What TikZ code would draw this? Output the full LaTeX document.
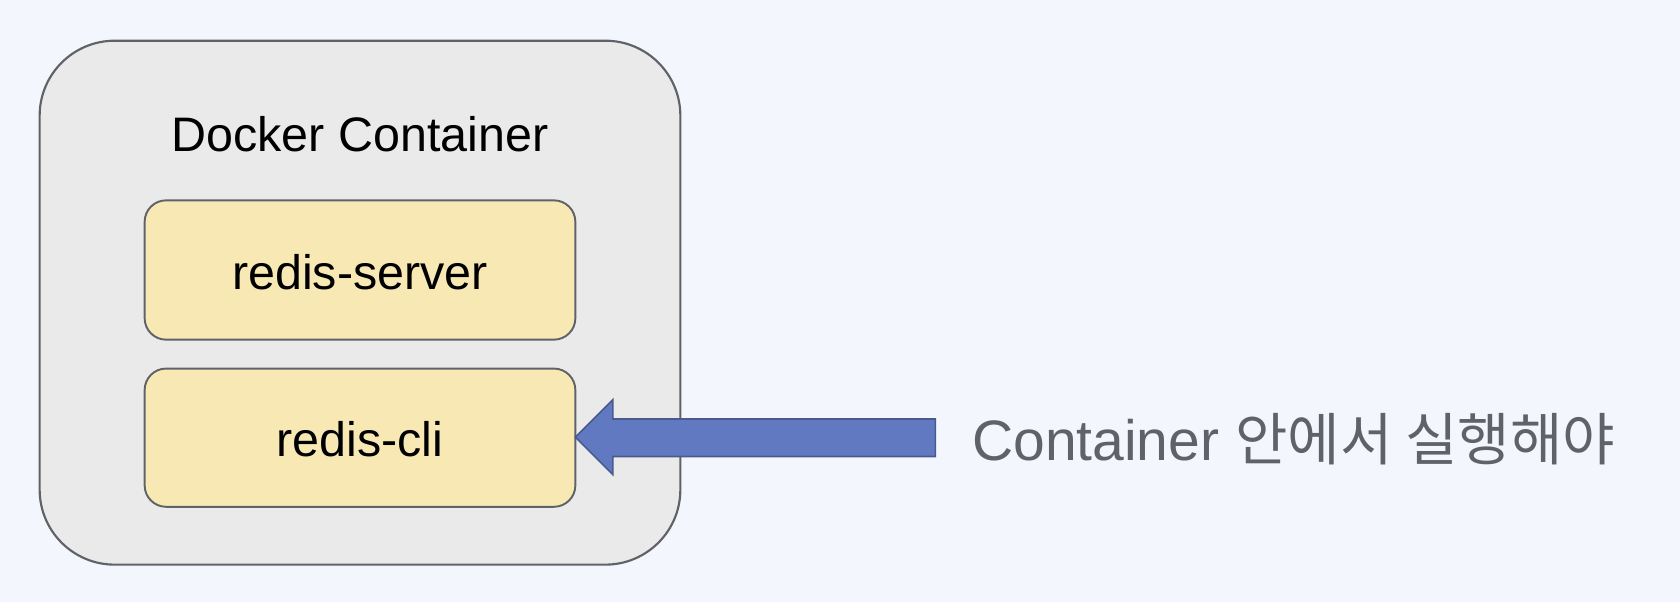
\documentclass[tikz,border=0pt]{standalone}
\usepackage{fontspec}
\setmainfont{Liberation Sans}
\newfontfamily\krfont{Noto Sans CJK KR}
\definecolor{bgc}{HTML}{F3F6FD}
\definecolor{contfill}{HTML}{EAEAEA}
\definecolor{edgegray}{HTML}{5F6368}
\definecolor{yelfill}{HTML}{F8E9B4}
\definecolor{arrfill}{HTML}{6079C1}
\definecolor{arredge}{HTML}{4A5A8E}
\definecolor{txtgray}{HTML}{5F6368}
\begin{document}
\begin{tikzpicture}[x=0.5pt,y=-0.5pt,
  container/.style={draw=edgegray,fill=contfill,line width=1pt,rounded corners=35pt},
  procbox/.style={draw=edgegray,fill=yelfill,line width=0.9pt,rounded corners=10pt},
  lbl/.style={font=\fontsize{22.6}{27}\selectfont,text=black,inner sep=0pt},
  note/.style={font=\fontsize{26.6}{32}\selectfont,text=txtgray,inner sep=0pt,anchor=west}]
\useasboundingbox[fill=bgc] (0,0) rectangle (1568,562);
\draw[container] (37,38) rectangle (635,527);
\node[lbl] (title) at (336,125) {Docker Container};
\draw[procbox] (135,187) rectangle (537,317);
\node[lbl] (server) at (336,254) {redis-server};
\draw[procbox] (135,344) rectangle (537,473);
\coordinate (cli) at (537,408);
\node[lbl] (clitext) at (336,410) {redis-cli};
\node[note] (msg) at (907,410) {Container {\krfont 안에서 실행해야}};
\draw[fill=arrfill,draw=arredge,line width=0.8pt,line join=miter]
  (cli) -- (572,373) -- (572,391) -- (873,391) -- (873,426) -- (572,426) -- (572,443) -- cycle;
\end{tikzpicture}
\end{document}
